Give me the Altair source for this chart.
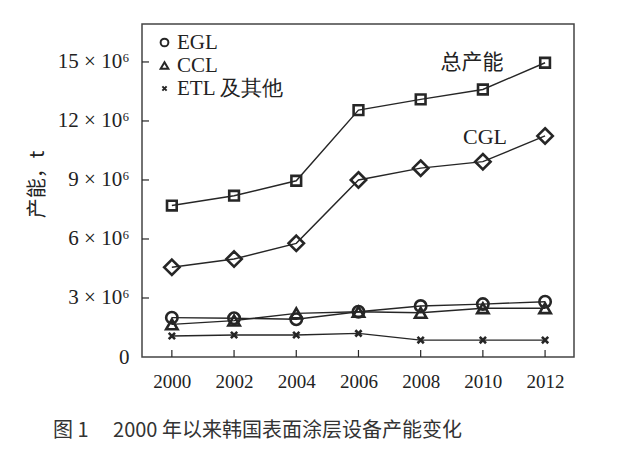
import altair as alt
import pandas as pd

years = [2000, 2002, 2004, 2006, 2008, 2010, 2012]
total = [7.70, 8.20, 8.96, 12.55, 13.10, 13.60, 14.96]
cgl = [4.56, 4.98, 5.78, 9.00, 9.60, 9.93, 11.24]
egl = [2.00, 1.97, 1.92, 2.30, 2.59, 2.69, 2.81]
ccl = [1.66, 1.85, 2.22, 2.30, 2.25, 2.48, 2.48]
etl = [1.07, 1.12, 1.12, 1.20, 0.86, 0.86, 0.86]

series_names = ["EGL", "CCL", "ETL 及其他", "总产能", "CGL"]
series_vals = [egl, ccl, etl, total, cgl]
shapes = [
    "circle",
    "triangle-up",
    "M-0.55,-0.55L0.55,0.55M-0.55,0.55L0.55,-0.55",
    "M-0.85,-0.85H0.85V0.85H-0.85Z",
    "M0,-1.35L1.35,0L0,1.35L-1.35,0Z",
]
legend_names = ["EGL", "CCL", "ETL 及其他"]

y_ticks = [0, 3, 6, 9, 12, 15]
x_ticks = years

ann_cn = {"year": [2009.65], "value": [14.95], "label": ["总产能"]}
ann_en = {"year": [2010.07], "value": [11.18], "label": ["CGL"]}

caption = "图 1\u3000\u00a02000 年以来韩国表面涂层设备产能变化"

rows = []
for name, vals in zip(series_names, series_vals):
    for yr, v in zip(years, vals):
        rows.append({"series": name, "year": yr, "value": v})
df = pd.DataFrame(rows)

W, H = 432, 333
ink = "#262626"

xs = alt.Scale(domain=[1999.04, 2012.93], nice=False, zero=False)
ys = alt.Scale(domain=[0, 16.93], nice=False, zero=False)

xax = alt.Axis(values=x_ticks, format="d", ticks=False, domain=False, grid=False,
               labelFontSize=19, labelPadding=15, labelColor="#222", title=None)
yax = alt.Axis(values=y_ticks, ticks=False, domain=False, grid=False,
               labelExpr="datum.value == 0 ? '0' : datum.value + ' × 10⁶'",
               labelFontSize=21, labelPadding=13, labelColor="#222",
               title="产能，t", titleFont="Noto Sans CJK SC", titleFontWeight="normal",
               titleFontSize=20, titleColor="#222", titleX=-105, titleY=160,
               titleAngle=270, titleAlign="center", titleBaseline="middle")

base = alt.Chart(df)
lines = base.mark_line(color=ink, strokeWidth=1.4).encode(
    x=alt.X("year:Q", scale=xs, axis=xax),
    y=alt.Y("value:Q", scale=ys, axis=yax),
    detail="series:N",
)
pts = base.mark_point(filled=False, color=ink, strokeWidth=2.6, opacity=1, size=130).encode(
    x=alt.X("year:Q", scale=xs),
    y=alt.Y("value:Q", scale=ys),
    shape=alt.Shape("series:N", scale=alt.Scale(domain=series_names, range=shapes),
                    legend=alt.Legend(values=legend_names, title=None,
                                      orient="none", legendX=12, legendY=8,
                                      labelFontSize=21, labelColor="#222",
                                      labelFont="Liberation Serif",
                                      labelExpr="datum.label == 'ETL 及其他' ? '\u00a0\u00a0ETL 及其他' : datum.label",
                                      symbolSize=60, symbolStrokeWidth=2,
                                      symbolStrokeColor=ink, symbolFillColor="transparent",
                                      rowPadding=1, labelOffset=2)),
)

xt = alt.Chart(pd.DataFrame({"year": x_ticks})).mark_rule(color=ink, strokeWidth=1.2).encode(
    x=alt.X("year:Q", scale=xs), y=alt.value(H), y2=alt.value(H - 7))
yt = alt.Chart(pd.DataFrame({"value": y_ticks[1:]})).mark_rule(color=ink, strokeWidth=1.2).encode(
    y=alt.Y("value:Q", scale=ys), x=alt.value(0), x2=alt.value(7))

t_cn = alt.Chart(pd.DataFrame(ann_cn)).mark_text(
    fontSize=21, color="#222", font="Noto Sans CJK SC").encode(
    x=alt.X("year:Q", scale=xs), y=alt.Y("value:Q", scale=ys), text="label:N")
t_en = alt.Chart(pd.DataFrame(ann_en)).mark_text(
    fontSize=22, color="#222", font="Liberation Serif").encode(
    x=alt.X("year:Q", scale=xs), y=alt.Y("value:Q", scale=ys), text="label:N")

chart = alt.layer(lines, pts, xt, yt, t_cn, t_en).properties(
    width=W, height=H,
    autosize=alt.AutoSizeParams(type="none"),
    padding={"left": 134, "top": 16, "right": 35, "bottom": 93},
    title=alt.TitleParams(caption, orient="bottom",
                          anchor="start", frame="group", dx=-89, offset=30, fontSize=20,
                          font="Noto Sans CJK SC", fontWeight="normal", color="#333"),
).configure(font="Liberation Serif").configure_view(stroke="#444", strokeWidth=1.5)

chart.save("out.html", embed_options={"renderer": "svg", "actions": False})
